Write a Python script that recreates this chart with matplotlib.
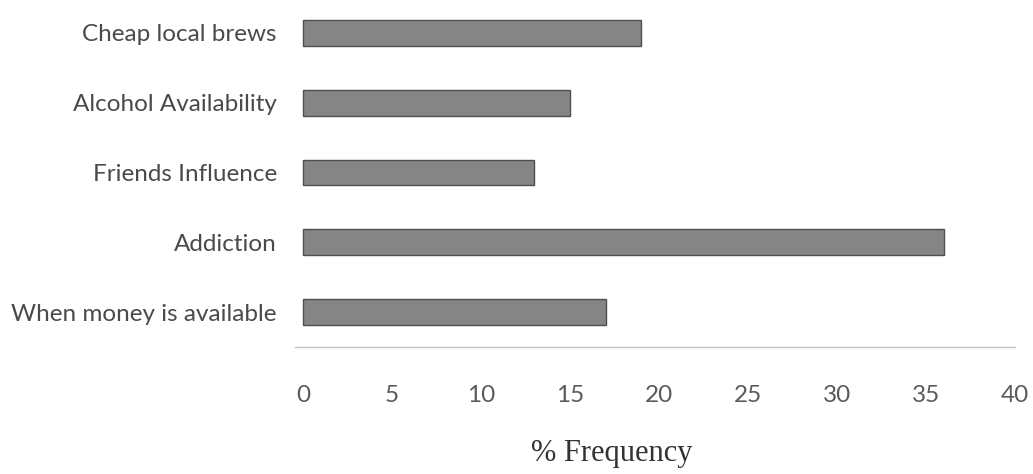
import matplotlib.pyplot as plt

# datos (de abajo hacia arriba)
categorias = ['When money is available', 'Addiction', 'Friends Influence',
              'Alcohol Availability', 'Cheap local brews']
frecuencia = [17, 36, 13, 15, 19]
ticks_x = [0, 5, 10, 15, 20, 25, 30, 35, 40]

plt.rcParams['font.family'] = ['Lato', 'DejaVu Sans']

fig = plt.figure(figsize=(10.33, 4.74), dpi=100)
ax = fig.add_axes([295 / 1033, (474 - 347) / 474, 720 / 1033, 347 / 474])

ax.barh(categorias, frecuencia, height=0.37, color='#858585',
        edgecolor='#4f4f4f', linewidth=1.0)

ax.set_xlim(-0.45, 40)
ax.set_ylim(-0.5, 4.47)
ax.set_xticks(ticks_x)

for lado in ['top', 'right', 'left']:
    ax.spines[lado].set_visible(False)
ax.spines['bottom'].set_color('#c4c4c4')
ax.spines['bottom'].set_linewidth(1.0)

ax.tick_params(axis='x', length=0, pad=27, labelsize=17.5, labelcolor='#5a5a5a')
ax.tick_params(axis='y', length=0, pad=13, labelsize=17.5, labelcolor='#4a4a4a')

fig.text(612 / 1033, 1 - 453 / 474, '% Frequency', ha='center', va='center',
         fontsize=22, family='Liberation Serif', color='#333333')

fig.savefig('out.png', dpi=100)
